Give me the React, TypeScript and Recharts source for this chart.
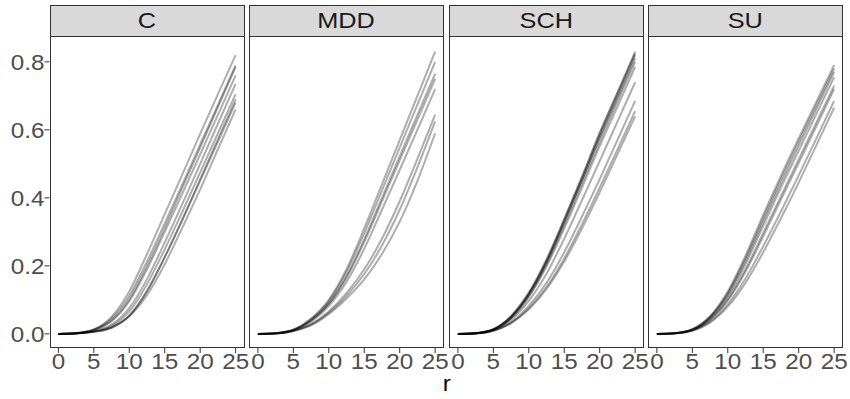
import { Line, LineChart, XAxis, YAxis } from 'recharts'

// r grid the curves were read at
const R_STEPS = [0, 2.5, 5, 7.5, 10, 12.5, 15, 17.5, 20, 22.5, 25]
const X_TICKS = [0, 5, 10, 15, 20, 25]
const Y_TICKS = [0, 0.2, 0.4, 0.6, 0.8]
const FACETS = ['C', 'MDD', 'SCH', 'SU']

const C_CURVES = [
  [0, 0.002, 0.013, 0.05, 0.125, 0.235, 0.352, 0.47, 0.588, 0.705, 0.82],
  [0, 0.002, 0.012, 0.045, 0.112, 0.213, 0.325, 0.44, 0.557, 0.673, 0.79],
  [0, 0.002, 0.012, 0.04, 0.102, 0.2, 0.312, 0.43, 0.548, 0.667, 0.785],
  [0, 0.002, 0.011, 0.037, 0.096, 0.19, 0.3, 0.413, 0.528, 0.644, 0.76],
  [0, 0.002, 0.008, 0.027, 0.076, 0.161, 0.269, 0.383, 0.5, 0.618, 0.735],
  [0, 0.002, 0.007, 0.023, 0.066, 0.146, 0.249, 0.36, 0.475, 0.59, 0.705],
  [0, 0.001, 0.006, 0.018, 0.053, 0.125, 0.226, 0.338, 0.455, 0.573, 0.69],
  [0, 0.001, 0.006, 0.018, 0.054, 0.126, 0.225, 0.335, 0.45, 0.565, 0.68],
  [0, 0.002, 0.007, 0.02, 0.052, 0.114, 0.205, 0.313, 0.425, 0.543, 0.66],
]

const MDD_CURVES = [
  [0, 0.002, 0.012, 0.045, 0.1, 0.19, 0.31, 0.44, 0.57, 0.7, 0.83],
  [0, 0.002, 0.012, 0.043, 0.096, 0.182, 0.296, 0.422, 0.548, 0.674, 0.8],
  [0, 0.002, 0.011, 0.04, 0.09, 0.17, 0.278, 0.4, 0.522, 0.644, 0.765],
  [0, 0.002, 0.011, 0.039, 0.088, 0.165, 0.27, 0.39, 0.51, 0.63, 0.75],
  [0, 0.002, 0.01, 0.036, 0.082, 0.153, 0.25, 0.365, 0.482, 0.6, 0.72],
  [0, 0.001, 0.009, 0.029, 0.066, 0.12, 0.19, 0.28, 0.39, 0.515, 0.645],
  [0, 0.001, 0.009, 0.027, 0.062, 0.112, 0.176, 0.26, 0.365, 0.49, 0.625],
  [0, 0.001, 0.008, 0.025, 0.058, 0.104, 0.16, 0.235, 0.33, 0.45, 0.59],
]

const SCH_CURVES = [
  [0, 0.002, 0.013, 0.05, 0.118, 0.215, 0.335, 0.46, 0.59, 0.71, 0.83],
  [0, 0.002, 0.014, 0.053, 0.122, 0.22, 0.338, 0.462, 0.59, 0.707, 0.825],
  [0, 0.002, 0.013, 0.049, 0.115, 0.21, 0.328, 0.452, 0.58, 0.7, 0.82],
  [0, 0.002, 0.013, 0.051, 0.118, 0.213, 0.33, 0.452, 0.577, 0.693, 0.81],
  [0, 0.002, 0.012, 0.047, 0.112, 0.205, 0.32, 0.442, 0.565, 0.683, 0.8],
  [0, 0.002, 0.012, 0.046, 0.108, 0.198, 0.31, 0.43, 0.552, 0.668, 0.785],
  [0, 0.002, 0.011, 0.042, 0.097, 0.177, 0.28, 0.393, 0.508, 0.624, 0.74],
  [0, 0.002, 0.01, 0.035, 0.082, 0.15, 0.24, 0.345, 0.455, 0.57, 0.685],
  [0, 0.001, 0.009, 0.032, 0.075, 0.138, 0.222, 0.322, 0.43, 0.542, 0.655],
  [0, 0.001, 0.009, 0.031, 0.072, 0.132, 0.213, 0.31, 0.416, 0.528, 0.64],
]

const SU_CURVES = [
  [0, 0.002, 0.014, 0.052, 0.125, 0.23, 0.35, 0.465, 0.575, 0.683, 0.79],
  [0, 0.002, 0.013, 0.05, 0.12, 0.222, 0.34, 0.455, 0.565, 0.673, 0.78],
  [0, 0.002, 0.013, 0.049, 0.116, 0.215, 0.33, 0.443, 0.553, 0.662, 0.77],
  [0, 0.002, 0.012, 0.046, 0.11, 0.205, 0.318, 0.43, 0.538, 0.647, 0.755],
  [0, 0.002, 0.011, 0.043, 0.102, 0.19, 0.297, 0.405, 0.513, 0.622, 0.73],
  [0, 0.002, 0.011, 0.041, 0.098, 0.183, 0.287, 0.395, 0.502, 0.611, 0.72],
  [0, 0.002, 0.01, 0.036, 0.087, 0.163, 0.258, 0.36, 0.466, 0.575, 0.685],
  [0, 0.001, 0.009, 0.033, 0.08, 0.15, 0.24, 0.34, 0.445, 0.555, 0.665],
]

const CURVES_BY_FACET = [C_CURVES, MDD_CURVES, SCH_CURVES, SU_CURVES]

const PANEL_LEFTS = [49.5, 249, 448.5, 648]
const PANEL_W = 195
const PANEL_TOP = 36
const PANEL_H = 312
const STRIP_TOP = 5
const Y_AXIS_W = 49.5
const X_AXIS_H = 34
const FONT = '"Liberation Sans", Arial, Helvetica, sans-serif'
// the reference text is a little wider than the font draws it
const STRETCH = 1.1

function toRows(curves: number[][]) {
  return R_STEPS.map((r, i) => {
    const row: Record<string, number> = { r }
    curves.forEach((curve, j) => {
      row[`s${j}`] = curve[i]
    })
    return row
  })
}

function XTick(props: any) {
  const { x, y, payload } = props
  return (
    <text
      transform={`translate(${x},${y}) scale(${STRETCH},1)`}
      textAnchor="middle"
      dy="0.71em"
      fill="#4D4D4D"
      fontSize={22}
      fontFamily={FONT}
    >
      {payload.value}
    </text>
  )
}

function YTick(props: any) {
  const { x, y, payload } = props
  return (
    <text
      transform={`translate(${x},${y}) scale(${STRETCH},1)`}
      textAnchor="end"
      dy="0.355em"
      fill="#4D4D4D"
      fontSize={22}
      fontFamily={FONT}
    >
      {Number(payload.value).toFixed(1)}
    </text>
  )
}

function Facet({ index }: { index: number }) {
  const label = FACETS[index]
  const curves = CURVES_BY_FACET[index]
  const left = PANEL_LEFTS[index]
  const showY = index === 0
  const yW = showY ? Y_AXIS_W : 0
  const data = toRows(curves)

  return (
    <>
      <div
        style={{
          position: 'absolute',
          left,
          top: STRIP_TOP,
          width: PANEL_W,
          height: PANEL_TOP - STRIP_TOP + 1,
          boxSizing: 'border-box',
          background: '#D9D9D9',
          border: '1px solid #333333',
          color: '#1A1A1A',
          fontSize: 22,
          lineHeight: `${PANEL_TOP - STRIP_TOP - 1}px`,
          textAlign: 'center',
        }}
      >
        <span style={{ display: 'inline-block', transform: `scaleX(${STRETCH + 0.05})` }}>{label}</span>
      </div>
      <div style={{ position: 'absolute', left: left - yW, top: PANEL_TOP }}>
        <LineChart
          width={PANEL_W + yW + 10}
          height={PANEL_H + X_AXIS_H}
          data={data}
          margin={{ top: 0, right: 10, bottom: 0, left: 0 }}
          style={{ overflow: 'visible' }}
        >
          <XAxis
            dataKey="r"
            type="number"
            domain={[-1.25, 26.25]}
            ticks={X_TICKS}
            interval={0}
            allowDataOverflow
            height={X_AXIS_H}
            axisLine={false}
            tickLine={{ stroke: '#333333' }}
            tickSize={5}
            tickMargin={0}
            tick={<XTick />}
          />
          <YAxis
            type="number"
            domain={[-0.0415, 0.876]}
            ticks={Y_TICKS}
            interval={0}
            allowDataOverflow
            width={yW}
            hide={!showY}
            axisLine={false}
            tickLine={{ stroke: '#333333' }}
            tickSize={5}
            tickMargin={0}
            tick={<YTick />}
          />
          {curves.map((_, j) => (
            <Line
              key={j}
              type="monotone"
              dataKey={`s${j}`}
              stroke="#000000"
              strokeOpacity={0.32}
              strokeWidth={2}
              dot={false}
              activeDot={false}
              isAnimationActive={false}
            />
          ))}
        </LineChart>
      </div>
      <div
        style={{
          position: 'absolute',
          left,
          top: PANEL_TOP,
          width: PANEL_W,
          height: PANEL_H,
          boxSizing: 'border-box',
          border: '1px solid #333333',
          pointerEvents: 'none',
        }}
      />
    </>
  )
}

export default function App() {
  return (
    <div
      style={{
        position: 'absolute',
        left: 0,
        top: 0,
        width: 850,
        height: 399,
        background: '#FFFFFF',
        fontFamily: FONT,
        overflow: 'hidden',
      }}
    >
      {FACETS.map((_, i) => (
        <Facet key={i} index={i} />
      ))}
      <div
        style={{
          position: 'absolute',
          left: PANEL_LEFTS[0],
          top: 374,
          width: PANEL_LEFTS[3] + PANEL_W - PANEL_LEFTS[0],
          textAlign: 'center',
          fontSize: 22,
          lineHeight: '20px',
          color: '#000000',
        }}
      >
        <span style={{ display: 'inline-block', transform: `scaleX(${STRETCH})` }}>r</span>
      </div>
    </div>
  )
}
